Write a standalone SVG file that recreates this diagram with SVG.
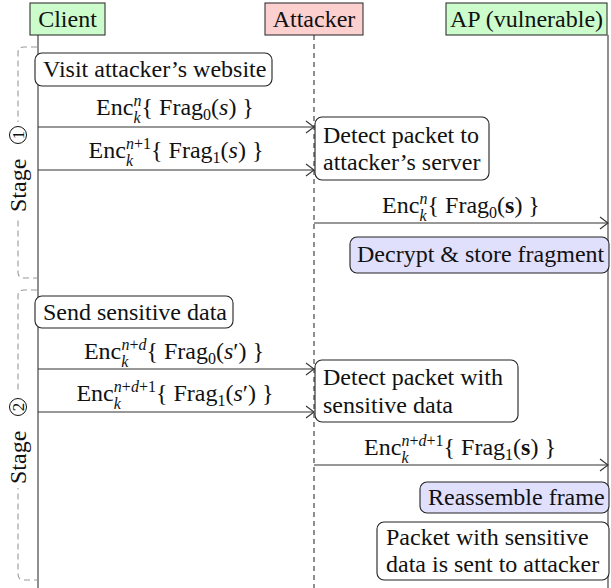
<svg xmlns="http://www.w3.org/2000/svg" width="611" height="588" viewBox="0 0 611 588">
<defs>
<marker id="tip" markerUnits="userSpaceOnUse" markerWidth="12" markerHeight="14" refX="10" refY="7" orient="auto" overflow="visible">
<path d="M2,1 L10,7 L2,13" fill="none" stroke="#333" stroke-width="1.1"/>
</marker>
</defs>
<rect width="611" height="588" fill="#fff"/>

<g id="lifelines" stroke="#333" stroke-width="1.1" fill="none">
<line x1="38" y1="35" x2="38" y2="588"/>
<line x1="314" y1="35" x2="314" y2="588" stroke-dasharray="5,4"/>
<line x1="608" y1="35" x2="608" y2="588"/>
</g>

<g id="stage1">
<path d="M37,47 H24 Q18,47 18,53 V272 Q18,278 24,278 H37" fill="none" stroke="#999" stroke-width="1.1" stroke-dasharray="6,4"/>
<rect x="6" y="122" width="24" height="96" fill="#fff"/>
<g transform="translate(26,170) rotate(-90)">
<text x="-42" y="0" font-family="Liberation Serif" font-size="24" fill="#111">Stage</text>
<circle cx="35" cy="-8" r="8.5" fill="none" stroke="#111" stroke-width="1"/>
<text x="35" y="-2" text-anchor="middle" font-family="Liberation Serif" font-size="17" fill="#111">1</text>
</g>
</g>

<g id="stage2">
<path d="M37,290 H24 Q18,290 18,296 V574 Q18,580 24,580 H37" fill="none" stroke="#999" stroke-width="1.1" stroke-dasharray="6,4"/>
<rect x="6" y="392" width="24" height="96" fill="#fff"/>
<g transform="translate(26,442) rotate(-90)">
<text x="-42" y="0" font-family="Liberation Serif" font-size="24" fill="#111">Stage</text>
<circle cx="35" cy="-8" r="8.5" fill="none" stroke="#111" stroke-width="1"/>
<text x="35" y="-2" text-anchor="middle" font-family="Liberation Serif" font-size="17" fill="#111">2</text>
</g>
</g>

<g id="client">
<rect x="30" y="3" width="75" height="32" fill="#ccfccc" stroke="#333" stroke-width="1.1"/>
<text x="67.5" y="27" text-anchor="middle" font-family="Liberation Serif" font-size="24" fill="#111">Client</text>
</g>
<g id="attacker">
<rect x="265" y="3" width="98" height="32" fill="#fdd0d0" stroke="#333" stroke-width="1.1"/>
<text x="314" y="27" text-anchor="middle" font-family="Liberation Serif" font-size="24" fill="#111">Attacker</text>
</g>
<g id="ap">
<rect x="446" y="3" width="161" height="32" fill="#ccfccc" stroke="#333" stroke-width="1.1"/>
<text x="526.5" y="27" text-anchor="middle" font-family="Liberation Serif" font-size="24" fill="#111">AP (vulnerable)</text>
</g>

<g id="connectors">
<g stroke="#333" stroke-width="1.1" fill="none" marker-end="url(#tip)">
<line x1="38" y1="127" x2="314" y2="127"/>
<line x1="38" y1="170" x2="314" y2="170"/>
<line x1="314" y1="223" x2="608" y2="223"/>
<line x1="38" y1="369" x2="314" y2="369"/>
<line x1="38" y1="412" x2="314" y2="412"/>
<line x1="314" y1="465" x2="608" y2="465"/>
</g>
<text x="175" y="115" text-anchor="middle" font-family="Liberation Serif" font-size="24" fill="#111">Enc<tspan font-size="16" font-style="italic" dy="8">k</tspan><tspan font-size="16" font-style="italic" dx="-7" dy="-17">n</tspan><tspan dy="9">{ Frag</tspan><tspan font-size="16" dy="5">0</tspan><tspan dy="-5">(</tspan><tspan font-style="italic">s</tspan>) }</text>
<text x="176" y="158" text-anchor="middle" font-family="Liberation Serif" font-size="24" fill="#111">Enc<tspan font-size="16" font-style="italic" dy="8">k</tspan><tspan font-size="16" dx="-7" dy="-17"><tspan font-style="italic">n</tspan>+1</tspan><tspan dy="9">{ Frag</tspan><tspan font-size="16" dy="5">1</tspan><tspan dy="-5">(</tspan><tspan font-style="italic">s</tspan>) }</text>
<text x="461" y="213" text-anchor="middle" font-family="Liberation Serif" font-size="24" fill="#111">Enc<tspan font-size="16" font-style="italic" dy="8">k</tspan><tspan font-size="16" font-style="italic" dx="-7" dy="-17">n</tspan><tspan dy="9">{ Frag</tspan><tspan font-size="16" dy="5">0</tspan><tspan dy="-5">(</tspan><tspan font-weight="bold">s</tspan>) }</text>
<text x="174" y="359" text-anchor="middle" font-family="Liberation Serif" font-size="24" fill="#111">Enc<tspan font-size="16" font-style="italic" dy="8">k</tspan><tspan font-size="16" dx="-7" dy="-17"><tspan font-style="italic">n</tspan>+<tspan font-style="italic">d</tspan></tspan><tspan dy="9">{ Frag</tspan><tspan font-size="16" dy="5">0</tspan><tspan dy="-5">(</tspan><tspan font-style="italic">s</tspan>′) }</text>
<text x="175" y="401" text-anchor="middle" font-family="Liberation Serif" font-size="24" fill="#111">Enc<tspan font-size="16" font-style="italic" dy="8">k</tspan><tspan font-size="16" dx="-7" dy="-17"><tspan font-style="italic">n</tspan>+<tspan font-style="italic">d</tspan>+1</tspan><tspan dy="9">{ Frag</tspan><tspan font-size="16" dy="5">1</tspan><tspan dy="-5">(</tspan><tspan font-style="italic">s</tspan>′) }</text>
<text x="460" y="455" text-anchor="middle" font-family="Liberation Serif" font-size="24" fill="#111">Enc<tspan font-size="16" font-style="italic" dy="8">k</tspan><tspan font-size="16" dx="-7" dy="-17"><tspan font-style="italic">n</tspan>+<tspan font-style="italic">d</tspan>+1</tspan><tspan dy="9">{ Frag</tspan><tspan font-size="16" dy="5">1</tspan><tspan dy="-5">(</tspan><tspan font-weight="bold">s</tspan>) }</text>
</g>

<g id="visit">
<rect x="35" y="53" width="237" height="33" rx="7" fill="#fff" stroke="#222" stroke-width="1.1"/>
<text x="43" y="77" font-family="Liberation Serif" font-size="24" fill="#111">Visit attacker’s website</text>
</g>
<g id="detect1">
<rect x="315" y="117" width="174" height="63" rx="7" fill="#fff" stroke="#222" stroke-width="1.1"/>
<text x="323" y="143" font-family="Liberation Serif" font-size="24" fill="#111">Detect packet to</text>
<text x="323" y="170" font-family="Liberation Serif" font-size="24" fill="#111">attacker’s server</text>
</g>
<g id="decrypt">
<rect x="350" y="237" width="259" height="36" rx="7" fill="#e0e0fc" stroke="#222" stroke-width="1.1"/>
<text x="357" y="262" font-family="Liberation Serif" font-size="24" fill="#111">Decrypt &amp; store fragment</text>
</g>
<g id="send">
<rect x="35" y="296" width="198" height="32" rx="7" fill="#fff" stroke="#222" stroke-width="1.1"/>
<text x="43" y="320" font-family="Liberation Serif" font-size="24" fill="#111">Send sensitive data</text>
</g>
<g id="detect2">
<rect x="315" y="360" width="203" height="62" rx="7" fill="#fff" stroke="#222" stroke-width="1.1"/>
<text x="323" y="385" font-family="Liberation Serif" font-size="24" fill="#111">Detect packet with</text>
<text x="323" y="413" font-family="Liberation Serif" font-size="24" fill="#111">sensitive data</text>
</g>
<g id="reassemble">
<rect x="420" y="482" width="189" height="31" rx="7" fill="#e0e0fc" stroke="#222" stroke-width="1.1"/>
<text x="428" y="505" font-family="Liberation Serif" font-size="24" fill="#111">Reassemble frame</text>
</g>
<g id="sent">
<rect x="377" y="522" width="232" height="58" rx="7" fill="#fff" stroke="#222" stroke-width="1.1"/>
<text x="386" y="545" font-family="Liberation Serif" font-size="24" fill="#111">Packet with sensitive</text>
<text x="386" y="572" font-family="Liberation Serif" font-size="24" fill="#111">data is sent to attacker</text>
</g>
</svg>
